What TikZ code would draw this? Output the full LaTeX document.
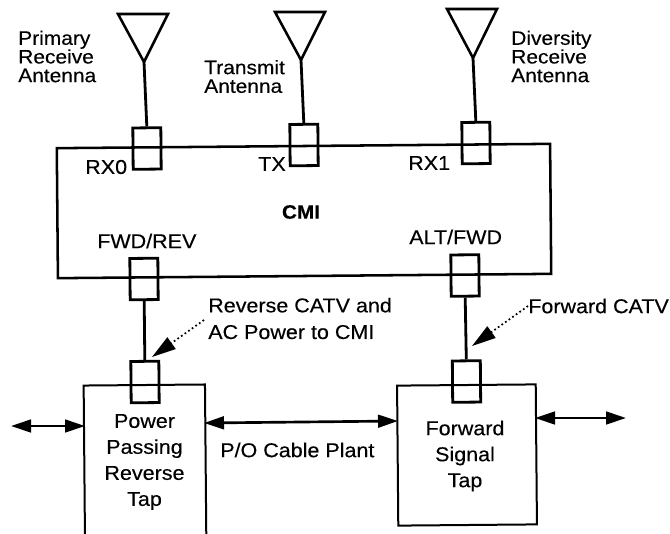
\documentclass[tikz,border=0pt]{standalone}
\usepackage{fontspec}
\setmainfont[FakeStretch=1.075,FakeBold=0.25]{Liberation Sans}
\usetikzlibrary{arrows.meta}
\tikzset{
  x=0.75pt,y=-0.75pt,
  wire/.style={line width=2.1pt},
  ant/.style={line width=1.9pt,line join=miter},
  boxa/.style={draw,line width=1.5pt,rectangle,inner sep=0pt,rotate=0.5,anchor=center},
  port/.style={boxa,line width=2.1pt,minimum width=21pt,minimum height=31pt},
  lab/.style={inner sep=0pt,font=\fontsize{15}{14}\selectfont,align=left},
  toplab/.style={lab,font=\fontsize{14.6}{14}\selectfont},
  clab/.style={inner sep=0pt,font=\fontsize{15}{19.5}\selectfont,align=center},
  dualarrow/.style={line width=2pt,{Triangle[length=15pt,width=9.5pt]}-{Triangle[length=15pt,width=9.5pt]}},
  fwdarrow/.style={line width=1.3pt,dotted,-{Triangle[length=18pt,width=10.5pt]}},
}
\begin{document}
\begin{tikzpicture}
\path[use as bounding box,fill=white] (0,0) rectangle (670,533);
\clip (0,0) rectangle (670,533);

% main boxes
\node[boxa,line width=1.9pt,minimum width=370pt,minimum height=97.5pt] (cmi) at (304,211) {};
\node[boxa,minimum width=91pt,minimum height=120pt] (ltap) at (145,465) {};
\node[boxa,minimum width=104pt,minimum height=105pt] (rtap) at (467,455) {};

% ports
\node[port] (rx0) at (147,148.5) {};
\node[port] (tx) at (304,145) {};
\node[port] (rx1) at (476,143) {};
\node[port] (fwdrev) at (144,279) {};
\node[port] (altfwd) at (465,275.5) {};
\node[port] (lport) at (145,382) {};
\node[port] (rport) at (466.5,381.5) {};

% antennas
\coordinate (a0l) at (118,14); \coordinate (a0r) at (168,14); \coordinate (a0) at (144,62);
\coordinate (a1l) at (275,12); \coordinate (a1r) at (325,12); \coordinate (a1) at (301,60);
\coordinate (a2l) at (447,9);  \coordinate (a2r) at (497,9);  \coordinate (a2) at (473,58);
\draw[ant] (a0l) -- (a0r) -- (a0) -- cycle;
\draw[ant] (a1l) -- (a1r) -- (a1) -- cycle;
\draw[ant] (a2l) -- (a2r) -- (a2) -- cycle;
\draw[wire] (a0) -- (rx0.north);
\draw[wire] (a1) -- (tx.north);
\draw[wire] (a2) -- (rx1.north);

% vertical links
\draw[wire] (fwdrev.south) -- (lport.north);
\draw[wire] (altfwd.south) -- (rport.north);

% horizontal arrows
\coordinate (lfree) at (11,426);
\coordinate (ledgeW) at (85,426);
\coordinate (ledgeE) at (204,423);
\coordinate (redgeW) at (398,421);
\coordinate (redgeE) at (535,418);
\coordinate (rfree) at (626,418);
\draw[dualarrow] (lfree) -- (ledgeW);
\draw[dualarrow] (ledgeE) -- (redgeW);
\draw[dualarrow] (redgeE) -- (rfree);

% labels
\node[toplab,anchor=west] (t1) at (18,56.5) {Primary\\Receive\\Antenna};
\node[toplab,anchor=west] (t2) at (204,76.5) {Transmit\\Antenna};
\node[toplab,anchor=west] (t3) at (511,56.5) {Diversity\\Receive\\Antenna};
\node[lab,anchor=west] (p0) at (85,167) {RX0};
\node[lab,anchor=west] (p1) at (258,164) {TX};
\node[lab,anchor=west] (p2) at (408,163) {RX1};
\node[lab,anchor=center,font=\fontsize{14.5}{14}\selectfont\bfseries] (cmit) at (301,212) {CMI};
\node[lab,anchor=west] (p3) at (97,241) {FWD/REV};
\node[lab,anchor=west] (p4) at (409,237) {ALT/FWD};
\node[clab,align=left,anchor=west,font=\fontsize{15}{20}\selectfont] (rev) at (208,318.5) {Reverse CATV and\\AC Power to CMI};
\node[lab,anchor=west] (fw) at (528,306) {Forward CATV};
\node[lab,anchor=west] (po) at (220,450) {P/O Cable Plant};
\node[clab] (lt) at (144.5,462) {Power\\Passing\\Reverse\\Tap};
\node[clab] (rt) at (465,456) {Forward\\Signal\\Tap};

% dotted pointers
\coordinate (ptrL) at (152,357);
\coordinate (ptrR) at (472,346);
\draw[fwdarrow] (rev.west |- 0,320) ++(-4,0) -- (ptrL);
\draw[fwdarrow] (fw.west) -- (ptrR);
\end{tikzpicture}
\end{document}
